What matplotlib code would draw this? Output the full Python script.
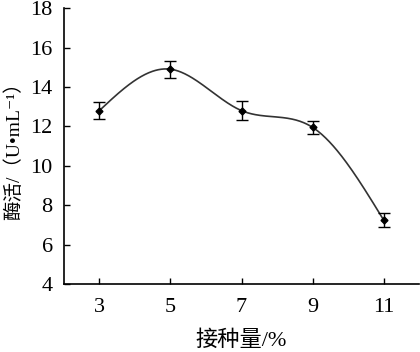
import matplotlib
matplotlib.use("Agg")
import matplotlib.pyplot as plt
import numpy as np

# inoculum amount (%) vs enzyme activity (U/mL)
inoculum = [3, 5, 7, 9, 11]
activity = [12.8, 14.9, 12.8, 11.95, 7.25]
errors = [0.42, 0.43, 0.47, 0.33, 0.37]

xticks = [3, 5, 7, 9, 11]
yticks = [4, 6, 8, 10, 12, 14, 16, 18]


def natural_spline(x, y, n=300):
    # plain natural cubic spline, just for the smoothed line
    x = np.asarray(x, float)
    y = np.asarray(y, float)
    k = len(x)
    h = np.diff(x)
    A = np.zeros((k, k))
    b = np.zeros(k)
    A[0, 0] = A[-1, -1] = 1
    for i in range(1, k - 1):
        A[i, i - 1] = h[i - 1]
        A[i, i] = 2 * (h[i - 1] + h[i])
        A[i, i + 1] = h[i]
        b[i] = 6 * ((y[i + 1] - y[i]) / h[i] - (y[i] - y[i - 1]) / h[i - 1])
    M = np.linalg.solve(A, b)
    xs = np.linspace(x[0], x[-1], n)
    ys = np.empty_like(xs)
    for j, t in enumerate(xs):
        i = min(np.searchsorted(x, t, side="right") - 1, k - 2)
        dx0 = x[i + 1] - t
        dx1 = t - x[i]
        ys[j] = (M[i] * dx0**3 + M[i + 1] * dx1**3) / (6 * h[i]) \
            + (y[i] / h[i] - M[i] * h[i] / 6) * dx0 \
            + (y[i + 1] / h[i] - M[i + 1] * h[i] / 6) * dx1
    return xs, ys


fonts = ["Liberation Serif", "Noto Sans CJK SC", "DejaVu Sans"]
plt.rcParams["font.family"] = fonts

fig = plt.figure(figsize=(4.2, 3.52), dpi=100)
ax = fig.add_axes([0.152, 0.193, 0.846, 0.784])

xs, ys = natural_spline(inoculum, activity)
ax.plot(xs, ys, color="#333333", lw=1.2)
ax.errorbar(inoculum, activity, yerr=errors, fmt="D", ms=3.5, color="black",
            ecolor="black", elinewidth=1.0, capsize=4, capthick=1.0)

ax.set_xlim(2, 12)
ax.set_ylim(4, 18)
ax.set_xticks(xticks)
ax.set_yticks(yticks)
ax.tick_params(direction="in", length=4, width=1, labelsize=16)
ax.tick_params(axis="x", pad=10)
ax.tick_params(axis="y", pad=8)
ax.spines["top"].set_visible(False)
ax.spines["right"].set_visible(False)
for s in ["left", "bottom"]:
    ax.spines[s].set_linewidth(1.2)

ax.set_xlabel("接种量/%", fontsize=16, labelpad=10)
ax.set_ylabel("酶活/（U•mL⁻¹）", fontsize=14, labelpad=5)

fig.savefig("out.png", dpi=100)
